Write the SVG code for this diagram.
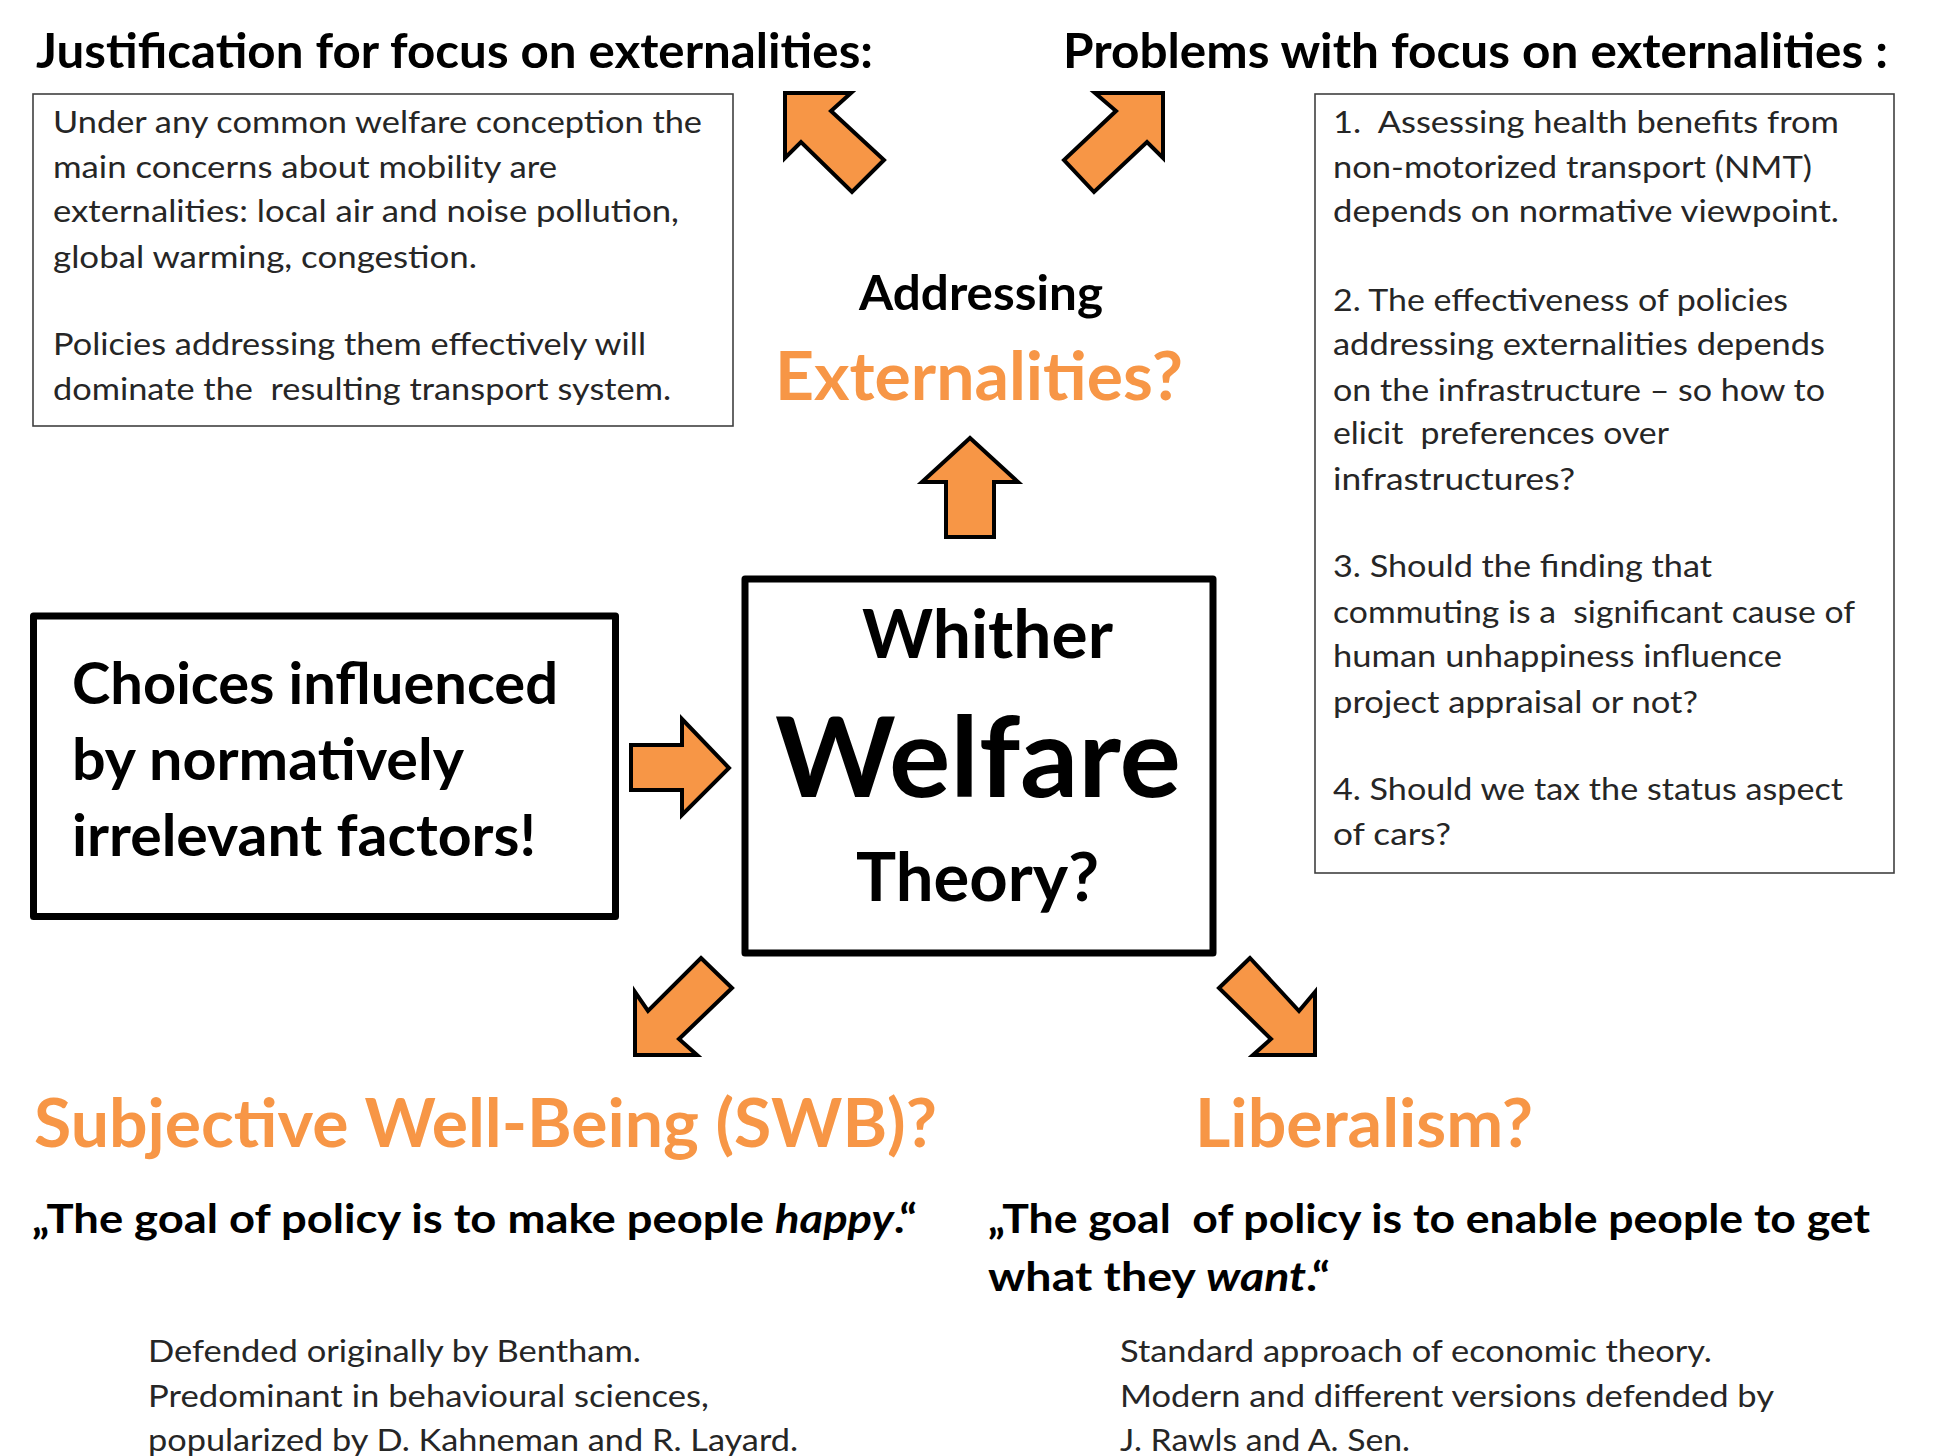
<svg xmlns="http://www.w3.org/2000/svg" width="1933" height="1456" viewBox="0 0 1933 1456">
  <style>
    text { font-family: Lato, "Open Sans", "Liberation Sans", sans-serif; }
    .head { font-weight: 700; font-size: 47.5px; fill: #000; }
    .body { font-size: 31px; fill: #262626; }
    .orange { font-weight: 700; font-size: 66px; fill: #F79646; }
    .big { font-weight: 700; fill: #000; }
    .quote { font-weight: 700; font-size: 40px; fill: #000; white-space: pre; }
    .thin { fill: #fff; stroke: #404040; stroke-width: 1.6; }
    .thick { fill: #fff; stroke: #000; stroke-width: 7; stroke-linejoin: round; }
    .arrow { fill: #F79646; stroke: #000; stroke-width: 4; stroke-linejoin: miter; }
    .pre { white-space: pre; }
  </style>

  <rect x="0" y="0" width="1933" height="1456" fill="#fff"/>

  <!-- section headings -->
  <g id="heading-justification">
    <text class="head" x="36" y="68" textLength="837" lengthAdjust="spacingAndGlyphs">Justification for focus on externalities:</text>
  </g>
  <g id="heading-problems">
    <text class="head" x="1063" y="68" textLength="825" lengthAdjust="spacingAndGlyphs">Problems with focus on externalities :</text>
  </g>

  <!-- justification box -->
  <g id="justification-box">
    <rect class="thin" x="33" y="94" width="700" height="332"/>
    <text class="body" x="53" y="133" textLength="649" lengthAdjust="spacingAndGlyphs">Under any common welfare conception the</text>
    <text class="body" x="53" y="178" textLength="504" lengthAdjust="spacingAndGlyphs">main concerns about mobility are</text>
    <text class="body" x="53" y="222" textLength="626" lengthAdjust="spacingAndGlyphs">externalities: local air and noise pollution,</text>
    <text class="body" x="53" y="268" textLength="424" lengthAdjust="spacingAndGlyphs">global warming, congestion.</text>
    <text class="body" x="53" y="355" textLength="593" lengthAdjust="spacingAndGlyphs">Policies addressing them effectively will</text>
    <text class="body pre" x="53" y="400" textLength="618" lengthAdjust="spacingAndGlyphs">dominate the  resulting transport system.</text>
  </g>

  <!-- problems box -->
  <g id="problems-box">
    <rect class="thin" x="1315" y="94" width="579" height="779"/>
    <text class="body pre" x="1333" y="133" textLength="506" lengthAdjust="spacingAndGlyphs">1.  Assessing health benefits from</text>
    <text class="body" x="1333" y="178" textLength="479" lengthAdjust="spacingAndGlyphs">non-motorized transport (NMT)</text>
    <text class="body" x="1333" y="222" textLength="506" lengthAdjust="spacingAndGlyphs">depends on normative viewpoint.</text>
    <text class="body" x="1333" y="311" textLength="455" lengthAdjust="spacingAndGlyphs">2. The effectiveness of policies</text>
    <text class="body" x="1333" y="355" textLength="492" lengthAdjust="spacingAndGlyphs">addressing externalities depends</text>
    <text class="body" x="1333" y="401" textLength="492" lengthAdjust="spacingAndGlyphs">on the infrastructure – so how to</text>
    <text class="body pre" x="1333" y="444" textLength="336" lengthAdjust="spacingAndGlyphs">elicit  preferences over</text>
    <text class="body" x="1333" y="490" textLength="242" lengthAdjust="spacingAndGlyphs">infrastructures?</text>
    <text class="body" x="1333" y="577" textLength="379" lengthAdjust="spacingAndGlyphs">3. Should the finding that</text>
    <text class="body pre" x="1333" y="623" textLength="522" lengthAdjust="spacingAndGlyphs">commuting is a  significant cause of</text>
    <text class="body" x="1333" y="667" textLength="449" lengthAdjust="spacingAndGlyphs">human unhappiness influence</text>
    <text class="body" x="1333" y="713" textLength="365" lengthAdjust="spacingAndGlyphs">project appraisal or not?</text>
    <text class="body" x="1333" y="800" textLength="510" lengthAdjust="spacingAndGlyphs">4. Should we tax the status aspect</text>
    <text class="body" x="1333" y="845" textLength="118" lengthAdjust="spacingAndGlyphs">of cars?</text>
  </g>

  <!-- addressing externalities -->
  <g id="externalities">
    <text class="head" x="859" y="310" textLength="244" lengthAdjust="spacingAndGlyphs">Addressing</text>
    <text class="orange" x="775" y="400" textLength="408" lengthAdjust="spacingAndGlyphs">Externalities?</text>
  </g>

  <!-- central question -->
  <g id="welfare-theory">
    <rect class="thick" x="745" y="579" width="468" height="374"/>
    <text class="big" x="862" y="658" font-size="66.5" textLength="251" lengthAdjust="spacingAndGlyphs">Whither</text>
    <text class="big" x="775" y="797" font-size="111" textLength="406" lengthAdjust="spacingAndGlyphs">Welfare</text>
    <text class="big" x="856" y="901" font-size="66.5" textLength="243" lengthAdjust="spacingAndGlyphs">Theory?</text>
  </g>

  <!-- irrelevant factors -->
  <g id="choices">
    <rect class="thick" x="33.5" y="616" width="582" height="300.5"/>
    <text class="big" x="72" y="704" font-size="57" textLength="486" lengthAdjust="spacingAndGlyphs">Choices influenced</text>
    <text class="big" x="72" y="780" font-size="57" textLength="392" lengthAdjust="spacingAndGlyphs">by normatively</text>
    <text class="big" x="72" y="856" font-size="57" textLength="464" lengthAdjust="spacingAndGlyphs">irrelevant factors!</text>
  </g>

  <!-- subjective well-being -->
  <g id="swb">
    <text class="orange" x="34" y="1147" textLength="903" lengthAdjust="spacingAndGlyphs">Subjective Well-Being (SWB)?</text>
    <text class="quote" x="32" y="1233" textLength="885" lengthAdjust="spacingAndGlyphs">„The goal of policy is to make people <tspan font-style="italic">happy</tspan>.“</text>
    <text class="body" x="148" y="1362" textLength="493" lengthAdjust="spacingAndGlyphs">Defended originally by Bentham.</text>
    <text class="body" x="148" y="1407" textLength="561" lengthAdjust="spacingAndGlyphs">Predominant in behavioural sciences,</text>
    <text class="body" x="148" y="1451" textLength="650" lengthAdjust="spacingAndGlyphs">popularized by D. Kahneman and R. Layard.</text>
  </g>

  <!-- liberalism -->
  <g id="liberalism">
    <text class="orange" x="1195" y="1147" textLength="338" lengthAdjust="spacingAndGlyphs">Liberalism?</text>
    <text class="quote" x="988" y="1233" textLength="882" lengthAdjust="spacingAndGlyphs">„The goal  of policy is to enable people to get</text>
    <text class="quote" x="988" y="1291" textLength="342" lengthAdjust="spacingAndGlyphs">what they <tspan font-style="italic">want</tspan>.“</text>
    <text class="body" x="1120" y="1362" textLength="592" lengthAdjust="spacingAndGlyphs">Standard approach of economic theory.</text>
    <text class="body" x="1120" y="1407" textLength="654" lengthAdjust="spacingAndGlyphs">Modern and different versions defended by</text>
    <text class="body" x="1120" y="1451" textLength="290" lengthAdjust="spacingAndGlyphs">J. Rawls and A. Sen.</text>
  </g>

  <!-- block arrows -->
  <g id="connectors">
    <polygon class="arrow" points="785,93 851,93 831,111 884,160 852,192 801,142 785,158"/>
    <polygon class="arrow" points="1163,93 1095,93 1116,111 1064,160 1094,192 1147,142 1163,158"/>
    <polygon class="arrow" points="970,438 922,482 946,482 946,537 994,537 994,482 1018,482"/>
    <polygon class="arrow" points="631,745 682,745 682,719 729,768 682,815 682,790 631,790"/>
    <polygon class="arrow" points="701,958 732,988 679,1039 697,1055 635,1055 635,992 648,1011"/>
    <polygon class="arrow" points="1250,958 1219,988 1271,1039 1253,1055 1315,1055 1315,992 1299,1011"/>
  </g>
</svg>
